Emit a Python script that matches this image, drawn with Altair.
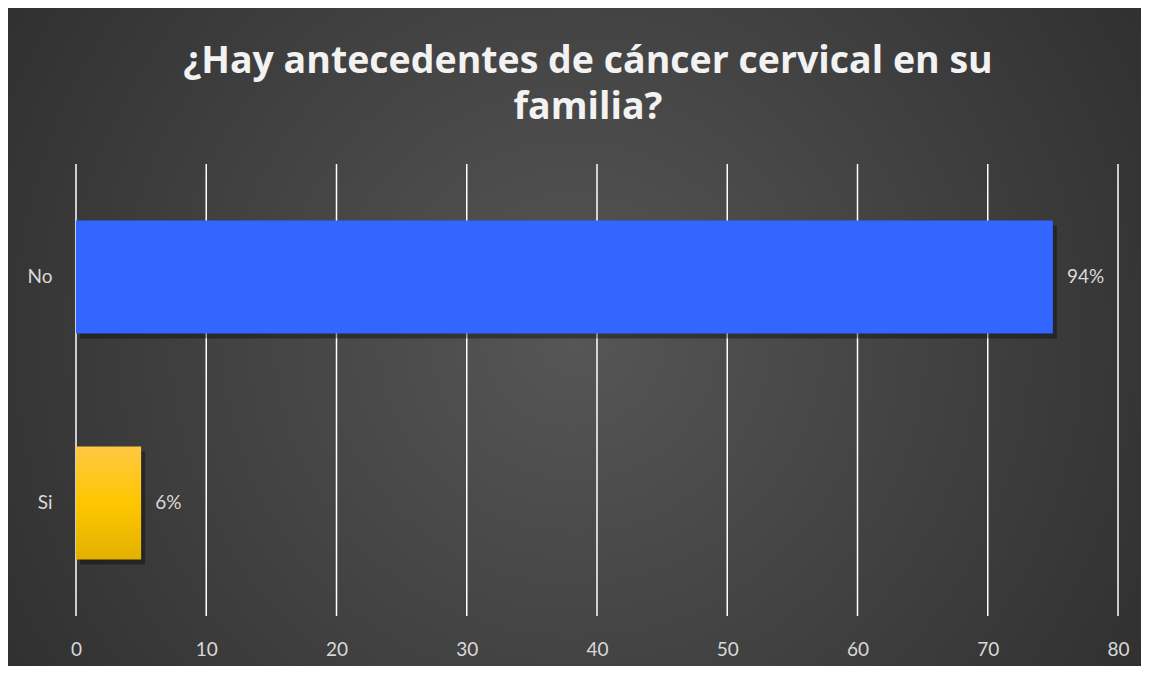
import altair as alt
import pandas as pd

categories = ["No", "Si"]
values = [75, 5]
labels = ["94%", "6%"]
tick_values = [0, 10, 20, 30, 40, 50, 60, 70, 80]
title_lines = ["¿Hay antecedentes de cáncer cervical en su", "familia?"]

df = pd.DataFrame({"cat": categories, "val": values, "lab": labels})
grid_df = pd.DataFrame({"t": tick_values})
title_df = pd.DataFrame({"title": ["\n".join(title_lines)]})

W, H = 1042, 452
PAD_L, PAD_T, PAD_R, PAD_B = 68, 156, 23, 50
FONT = "Lato"
LABEL_COLOR = "#d9d9d9"

x_scale = alt.Scale(domain=[0, 80], nice=False)
x_axis = alt.Axis(values=tick_values, grid=False, domain=False, ticks=False,
                  labelColor=LABEL_COLOR, labelFontSize=19, labelFont=FONT,
                  labelPadding=24, labelFlush=False, zindex=2)

y_enc = alt.Y(
    "cat:N",
    sort=categories,
    title=None,
    scale=alt.Scale(paddingInner=0.5, paddingOuter=0.25),
    axis=alt.Axis(domain=False, ticks=False, grid=False, labelColor=LABEL_COLOR,
                  labelFontSize=19, labelFont=FONT, labelPadding=24, zindex=2),
)
x_enc = alt.X("val:Q", title=None, scale=x_scale, axis=x_axis)

bg = alt.Chart(pd.DataFrame({"a": [0]})).mark_rect(
    fill=alt.Gradient(
        gradient="radial",
        x1=0.5, y1=0.5, r1=0.0,
        x2=0.5, y2=0.5, r2=0.75,
        stops=[alt.GradientStop(offset=0, color="#565656"),
               alt.GradientStop(offset=1, color="#252525")],
    )
).encode(
    x=alt.value(-PAD_L), x2=alt.value(W + PAD_R),
    y=alt.value(-PAD_T), y2=alt.value(H + PAD_B),
)

grid = alt.Chart(grid_df).mark_rule(color="#ffffff", strokeWidth=1.5).encode(
    x=alt.X("t:Q", title=None, scale=x_scale, axis=x_axis)
)

base = alt.Chart(df)

shadow = base.mark_bar(color="#000000", opacity=0.35, xOffset=4, yOffset=5).encode(
    x=x_enc, y=y_enc
)

blue = base.transform_filter(alt.datum.cat == "No").mark_bar(
    fill="#3366FF"
).encode(x=x_enc, y=y_enc)

yellow = base.transform_filter(alt.datum.cat == "Si").mark_bar(
    fill=alt.Gradient(
        gradient="linear", x1=0, y1=0, x2=0, y2=1,
        stops=[alt.GradientStop(offset=0, color="#FFC843"),
               alt.GradientStop(offset=0.5, color="#FFC600"),
               alt.GradientStop(offset=1, color="#E2B100")],
    )
).encode(x=x_enc, y=y_enc)

text = base.mark_text(align="left", baseline="middle", dx=14, fontSize=19,
                      font=FONT, color=LABEL_COLOR).encode(
    x=x_enc, y=y_enc, text="lab:N"
)

title = alt.Chart(title_df).mark_text(
    align="center", baseline="alphabetic", lineBreak="\n", lineHeight=46,
    fontSize=37.5, font="Open Sans", fontWeight="bold", color="#f2f2f2",
).encode(
    x=alt.value(W / 2 - 9), y=alt.value(-91), text="title:N"
)

chart = alt.layer(bg, grid, shadow, blue, yellow, text, title).properties(
    width=W,
    height=H,
    autosize=alt.AutoSizeParams(type="none"),
    padding={"left": PAD_L, "top": PAD_T, "right": PAD_R, "bottom": PAD_B},
).configure(background="#333333").configure_view(stroke=None)

chart.save("out.html", embed_options={"renderer": "svg", "actions": False})
